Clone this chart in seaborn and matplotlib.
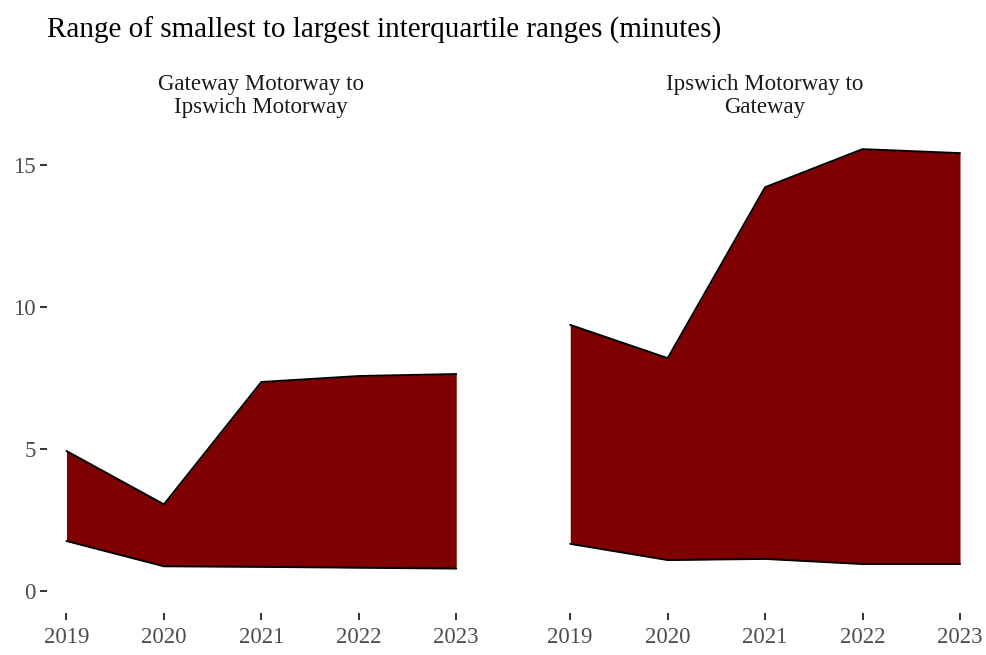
import matplotlib
matplotlib.use("Agg")
import matplotlib.pyplot as plt
import seaborn as sns
import pandas as pd

# data
years = [2019, 2020, 2021, 2022, 2023]
directions = ["Gateway Motorway to\nIpswich Motorway", "Ipswich Motorway to\nGateway"]
gw_to_ips_low = [1.76, 0.87, 0.85, 0.82, 0.79]
gw_to_ips_high = [4.93, 3.05, 7.36, 7.57, 7.64]
ips_to_gw_low = [1.66, 1.09, 1.13, 0.95, 0.95]
ips_to_gw_high = [9.37, 8.20, 14.22, 15.56, 15.42]

df = pd.concat([
    pd.DataFrame({"year": years, "low": gw_to_ips_low, "high": gw_to_ips_high,
                  "direction": directions[0]}),
    pd.DataFrame({"year": years, "low": ips_to_gw_low, "high": ips_to_gw_high,
                  "direction": directions[1]}),
], ignore_index=True)

sns.set_theme(style="white")
plt.rcParams["font.family"] = ["Liberation Serif", "DejaVu Serif"]


def ribbon(data, **kws):
    ax = plt.gca()
    ax.fill_between(data["year"], data["low"], data["high"], color="#7f0000", lw=0)
    sns.lineplot(data=data, x="year", y="low", color="black", lw=1.4, ax=ax)
    sns.lineplot(data=data, x="year", y="high", color="black", lw=1.4, ax=ax)


g = sns.FacetGrid(df, col="direction", col_order=directions, sharey=True,
                  height=6.55, aspect=0.75, despine=False)
g.map_dataframe(ribbon)
g.figure.set_size_inches(9.87, 6.55)
g.figure.subplots_adjust(left=0.0476, right=0.9924, bottom=0.064, top=0.806, wspace=0.175)

ymax = max(ips_to_gw_high)
for ax, title in zip(g.axes.flat, directions):
    ax.set_title(title, fontsize=16.5, color="#1a1a1a", pad=10, linespacing=1.12)
    ax.set_xlim(2018.8, 2023.2)
    ax.set_ylim(-0.05 * ymax, 1.05 * ymax)
    ax.set_xticks(years)
    ax.set_xticklabels([str(y) for y in years])
    ax.set_yticks([0, 5, 10, 15])
    ax.set_xlabel("")
    ax.set_ylabel("")
    for s in ax.spines.values():
        s.set_visible(False)
    ax.tick_params(axis="both", which="both", length=5, width=1.4, color="#333333",
                   labelsize=16.5, labelcolor="#4d4d4d", pad=3,
                   bottom=True, left=True)
    ax.tick_params(axis="x", pad=5)
    ax.grid(False)

g.axes.flat[1].tick_params(left=False, labelleft=False)

g.figure.text(0.0476, 0.954, "Range of smallest to largest interquartile ranges (minutes)",
              fontsize=21, ha="left", va="center", color="black")

g.figure.savefig("out.png", dpi=100)
